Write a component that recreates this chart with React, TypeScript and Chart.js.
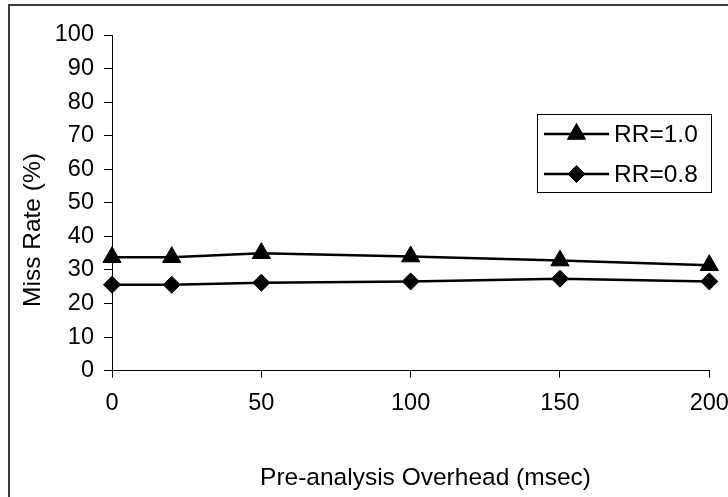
import React, { useEffect, useRef } from 'react';
import { Chart, registerables } from 'chart.js';

Chart.register(...registerables);

// ---- data ----
const overheadMs = [0, 20, 50, 100, 150, 200];
const missRR10 = [33.8, 33.8, 35.0, 34.0, 32.8, 31.4];
const missRR08 = [25.6, 25.6, 26.2, 26.6, 27.4, 26.6];
const seriesLabels = ['RR=1.0', 'RR=0.8'];
const xTitle = 'Pre-analysis Overhead (msec)';
const yTitle = 'Miss Rate (%)';

const FONT = 'Arial, "Liberation Sans", sans-serif';

function drawMarker(ctx: CanvasRenderingContext2D, style: string, x: number, y: number, r: number) {
  ctx.beginPath();
  if (style === 'triangle') {
    let rad = 0;
    ctx.moveTo(x + Math.sin(rad) * r, y - Math.cos(rad) * r);
    rad += (2 * Math.PI) / 3;
    ctx.lineTo(x + Math.sin(rad) * r, y - Math.cos(rad) * r);
    rad += (2 * Math.PI) / 3;
    ctx.lineTo(x + Math.sin(rad) * r, y - Math.cos(rad) * r);
  } else {
    ctx.moveTo(x - r, y);
    ctx.lineTo(x, y - r);
    ctx.lineTo(x + r, y);
    ctx.lineTo(x, y + r);
  }
  ctx.closePath();
  ctx.fill();
  ctx.stroke();
}

const framePlugin = {
  id: 'frame',
  beforeDraw(chart: any) {
    const ctx = chart.ctx as CanvasRenderingContext2D;
    ctx.save();
    ctx.fillStyle = '#fff';
    ctx.fillRect(0, 0, chart.width, chart.height);
    ctx.strokeStyle = '#3a3a3a';
    ctx.lineWidth = 2;
    ctx.strokeRect(9, 5, 900, 700);
    ctx.restore();
  },
};

const titlesPlugin = {
  id: 'axisTitles',
  afterDraw(chart: any) {
    const ctx = chart.ctx as CanvasRenderingContext2D;
    ctx.save();
    ctx.fillStyle = '#000';
    ctx.font = `24.5px ${FONT}`;
    ctx.textAlign = 'center';
    ctx.textBaseline = 'middle';
    ctx.fillText(xTitle, 425.5, 478);
    ctx.translate(33, 230);
    ctx.rotate(-Math.PI / 2);
    ctx.fillText(yTitle, 0, 0);
    ctx.restore();
  },
};

const legendPlugin = {
  id: 'boxLegend',
  afterDraw(chart: any) {
    const ctx = chart.ctx as CanvasRenderingContext2D;
    const bx = 537, by = 114, bw = 174, bh = 78;
    ctx.save();
    ctx.strokeStyle = '#000';
    ctx.lineWidth = 1;
    ctx.strokeRect(bx + 0.5, by + 0.5, bw, bh);
    chart.data.datasets.forEach((ds: any, i: number) => {
      const cy = by + 20 + i * 40;
      ctx.strokeStyle = '#000';
      ctx.fillStyle = '#000';
      ctx.lineWidth = 2.5;
      ctx.beginPath();
      ctx.moveTo(544, cy);
      ctx.lineTo(609, cy);
      ctx.stroke();
      ctx.lineWidth = 1;
      drawMarker(ctx, ds.pointStyle, 576.5, cy, ds.pointRadius);
      ctx.font = `24.5px ${FONT}`;
      ctx.textAlign = 'left';
      ctx.textBaseline = 'middle';
      ctx.fillText(ds.label, 614, cy + 1);
    });
    ctx.restore();
  },
};

export default function App() {
  const ref = useRef<HTMLCanvasElement>(null);
  useEffect(() => {
    document.body.style.margin = '0';
    const chart = new Chart(ref.current!, {
      type: 'line',
      data: {
        datasets: [
          {
            label: seriesLabels[0],
            data: overheadMs.map((x, i) => ({ x, y: missRR10[i] })),
            borderColor: '#000',
            backgroundColor: '#000',
            borderWidth: 2.5,
            pointStyle: 'triangle',
            pointRadius: 10.5,
            pointBackgroundColor: '#000',
            pointBorderColor: '#000',
            pointBorderWidth: 1,
            clip: false as any,
          },
          {
            label: seriesLabels[1],
            data: overheadMs.map((x, i) => ({ x, y: missRR08[i] })),
            borderColor: '#000',
            backgroundColor: '#000',
            borderWidth: 2.5,
            pointStyle: 'rectRot',
            pointRadius: 8.5,
            pointBackgroundColor: '#000',
            pointBorderColor: '#000',
            pointBorderWidth: 1,
            clip: false as any,
          },
        ],
      },
      options: {
        responsive: false,
        animation: false,
        layout: { padding: { left: 0, top: 35, right: 18.7, bottom: 0 } },
        plugins: { legend: { display: false }, tooltip: { enabled: false } },
        scales: {
          x: {
            type: 'linear',
            min: 0,
            max: 200,
            afterFit: (s: any) => {
              s.height = 126.3;
              s.paddingLeft = 0;
              s.paddingRight = 0;
            },
            ticks: {
              stepSize: 50,
              color: '#000',
              font: { family: FONT, size: 23.5 },
              padding: 12,
              maxRotation: 0,
            },
            grid: { drawOnChartArea: false, tickLength: 7, tickColor: '#000', tickWidth: 1 },
            border: { color: '#000', width: 1 },
          },
          y: {
            min: 0,
            max: 100,
            afterFit: (s: any) => {
              s.width = 112;
            },
            ticks: {
              stepSize: 10,
              color: '#000',
              font: { family: FONT, size: 23.5 },
              padding: 10,
            },
            grid: { drawOnChartArea: false, tickLength: 8, tickColor: '#000', tickWidth: 1 },
            border: { color: '#000', width: 1 },
          },
        },
      },
      plugins: [framePlugin, titlesPlugin, legendPlugin],
    });
    return () => chart.destroy();
  }, []);
  return (
    <canvas
      ref={ref}
      width={728}
      height={497}
      style={{ display: 'block', width: 728, height: 497 }}
    />
  );
}
